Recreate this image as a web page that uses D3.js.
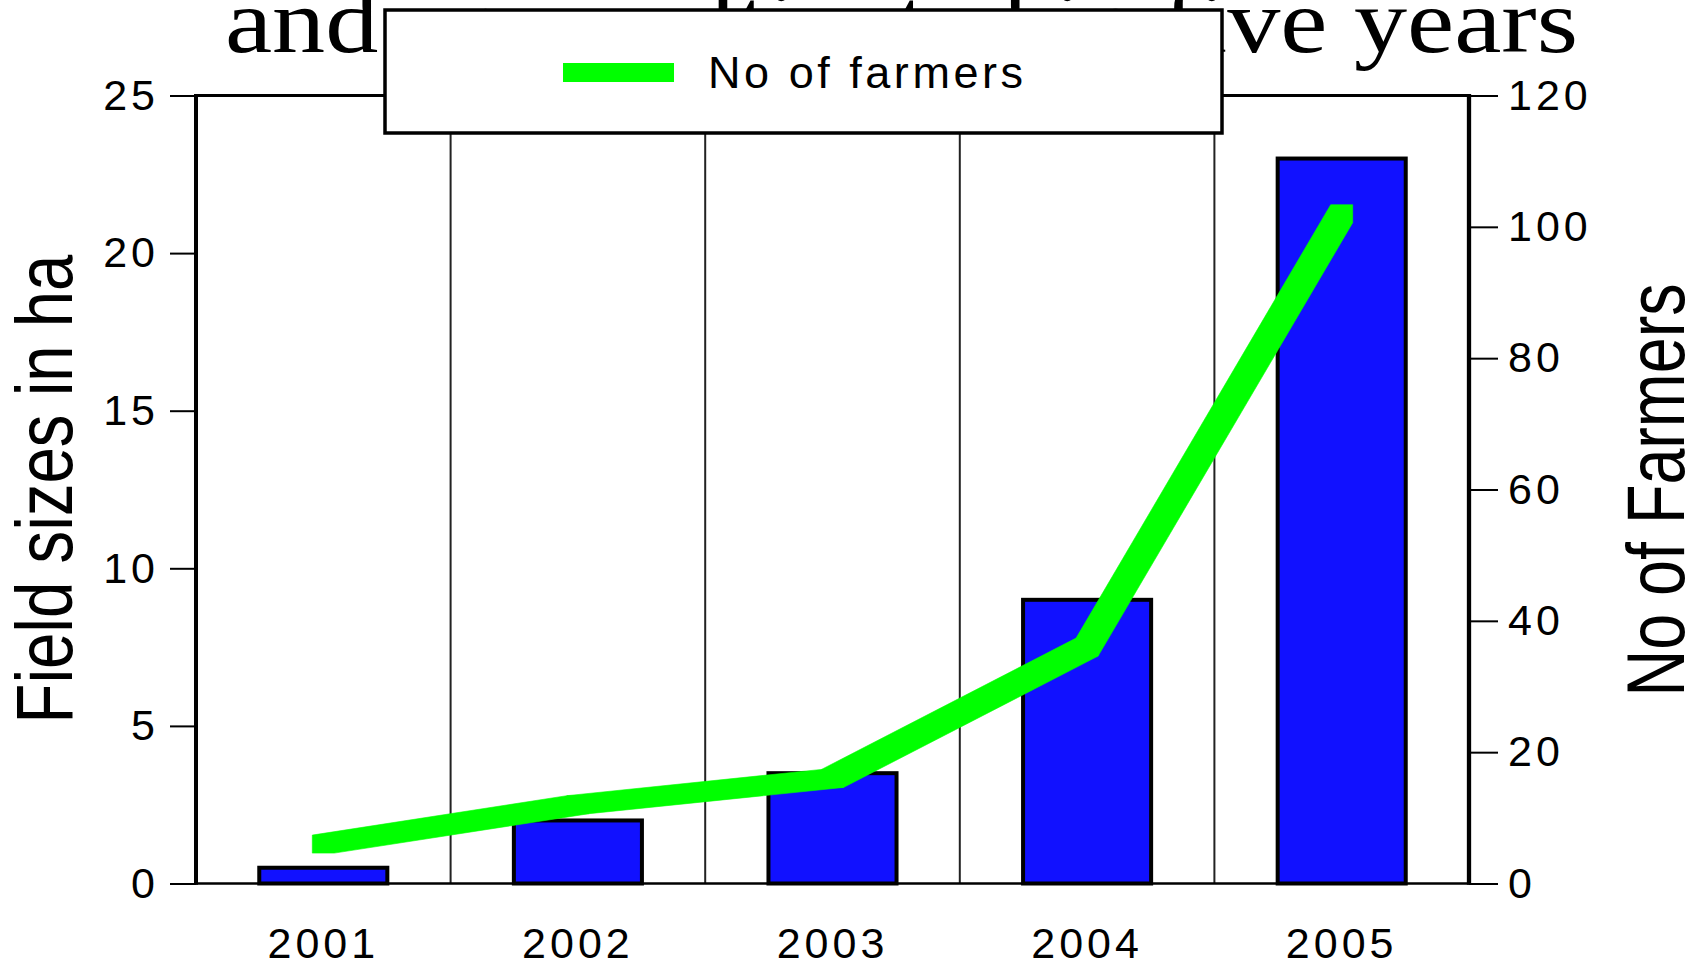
<!DOCTYPE html>
<html>
<head>
<meta charset="utf-8">
<script src="https://cdn.jsdelivr.net/npm/d3@7"></script>
<style>
  html, body { margin: 0; padding: 0; background: #fff; }
  svg { display: block; }
  .tick text { font-family: "Liberation Sans", Arial, sans-serif; font-size: 43px; letter-spacing: 4px; fill: #000; }
</style>
</head>
<body>
<svg id="chart" width="1697" height="965"></svg>
<script>
// Field sizes (ha) and number of farmers per year
const years = ["2001", "2002", "2003", "2004", "2005"];
const fieldSizes = [0.5, 2, 3.5, 9, 23];
const farmers = [6, 12, 16, 36, 102];
const leftTicks = [0, 5, 10, 15, 20, 25];
const rightTicks = [0, 20, 40, 60, 80, 100, 120];

const svg = d3.select("#chart");
const W = 1697, H = 965;
const plot = { left: 196, right: 1469, top: 95.5, bottom: 883.5 };

const x = d3.scaleBand().domain(years).range([plot.left, plot.right]).padding(0);
const yL = d3.scaleLinear().domain([0, 25]).range([plot.bottom, plot.top]);
const yR = d3.scaleLinear().domain([0, 120]).range([plot.bottom, plot.top]);

svg.append("rect").attr("width", W).attr("height", H).attr("fill", "#fff");

// Title (second line of the heading)
svg.append("text")
  .attr("x", 225).attr("y", 52)
  .attr("font-family", "'Liberation Serif', 'Times New Roman', serif")
  .attr("font-size", 90)
  .attr("textLength", 1353)
  .attr("lengthAdjust", "spacingAndGlyphs")
  .text("and area cultivated in five years");

// Vertical separators between year bands
svg.append("g").selectAll("line")
  .data(years.slice(1))
  .join("line")
  .attr("x1", d => x(d)).attr("x2", d => x(d))
  .attr("y1", plot.top).attr("y2", plot.bottom)
  .attr("stroke", "#222").attr("stroke-width", 2);

// Bars: field sizes
const barW = x.bandwidth() * 0.503;
svg.append("g").selectAll("rect")
  .data(years.map((y, i) => ({ year: y, v: fieldSizes[i] })))
  .join("rect")
  .attr("x", d => x(d.year) + x.bandwidth() / 2 - barW / 2)
  .attr("width", barW)
  .attr("y", d => yL(d.v))
  .attr("height", d => yL(0) - yL(d.v))
  .attr("fill", "#1111ff")
  .attr("stroke", "#000")
  .attr("stroke-width", 4);

// Farmers line, traced with a rectangular pen
const penW = 22, penH = 18;
const pts = years.map((y, i) => [x(y) + x.bandwidth() / 2, yR(farmers[i])]);
const corners = p => [
  [p[0] - penW / 2, p[1] - penH / 2], [p[0] + penW / 2, p[1] - penH / 2],
  [p[0] + penW / 2, p[1] + penH / 2], [p[0] - penW / 2, p[1] + penH / 2]
];
const segs = d3.pairs(pts).map(([a, b]) => d3.polygonHull(corners(a).concat(corners(b))));
svg.append("g").selectAll("path")
  .data(segs)
  .join("path")
  .attr("d", d => "M" + d.join("L") + "Z")
  .attr("fill", "#00ff00")
  .attr("stroke", "#00ff00")
  .attr("stroke-width", 0.6);

// Axes
const gl = svg.append("g")
  .attr("transform", `translate(${plot.left},0)`)
  .call(d3.axisLeft(yL).tickValues(leftTicks).tickSize(26).tickPadding(11).tickFormat(d3.format("d")));
gl.select(".domain").remove();
gl.selectAll(".tick line").attr("stroke", "#000").attr("stroke-width", 2);

const gr = svg.append("g")
  .attr("transform", `translate(${plot.right},0)`)
  .call(d3.axisRight(yR).tickValues(rightTicks).tickSize(29).tickPadding(10).tickFormat(d3.format("d")));
gr.select(".domain").remove();
gr.selectAll(".tick line").attr("stroke", "#000").attr("stroke-width", 2);

const gb = svg.append("g")
  .attr("transform", `translate(0,${plot.bottom})`)
  .call(d3.axisBottom(x).tickSize(0).tickPadding(44));
gb.select(".domain").remove();

// Plot frame
const frame = svg.append("g").attr("stroke", "#000").attr("fill", "none");
frame.append("line").attr("x1", plot.left).attr("x2", plot.right).attr("y1", plot.top).attr("y2", plot.top).attr("stroke-width", 3);
frame.append("line").attr("x1", plot.left).attr("x2", plot.right).attr("y1", plot.bottom).attr("y2", plot.bottom).attr("stroke-width", 2.5);
frame.append("line").attr("x1", plot.left).attr("x2", plot.left).attr("y1", plot.top - 1.5).attr("y2", plot.bottom + 1.2).attr("stroke-width", 4);
frame.append("line").attr("x1", plot.right).attr("x2", plot.right).attr("y1", plot.top - 1.5).attr("y2", plot.bottom + 1.2).attr("stroke-width", 4.3);

// Axis titles
svg.append("text")
  .attr("transform", "translate(72,489) rotate(-90)")
  .attr("text-anchor", "middle")
  .attr("font-family", "'Liberation Sans', Arial, sans-serif")
  .attr("font-size", 80)
  .attr("textLength", 469)
  .attr("lengthAdjust", "spacingAndGlyphs")
  .text("Field sizes in ha");

svg.append("text")
  .attr("transform", "translate(1684,490) rotate(-90)")
  .attr("text-anchor", "middle")
  .attr("font-family", "'Liberation Sans', Arial, sans-serif")
  .attr("font-size", 82)
  .attr("textLength", 413)
  .attr("lengthAdjust", "spacingAndGlyphs")
  .text("No of Farmers");

// Legend
const lg = svg.append("g");
lg.append("rect")
  .attr("x", 385).attr("y", 10).attr("width", 837).attr("height", 123)
  .attr("fill", "#fff").attr("stroke", "#000").attr("stroke-width", 3.5);
lg.append("rect")
  .attr("x", 563).attr("y", 63).attr("width", 111).attr("height", 19)
  .attr("fill", "#00ff00");
lg.append("text")
  .attr("x", 708).attr("y", 88)
  .attr("font-family", "'Liberation Sans', Arial, sans-serif")
  .attr("font-size", 45)
  .attr("textLength", 315)
  .attr("lengthAdjust", "spacing")
  .text("No of farmers");
</script>
</body>
</html>
